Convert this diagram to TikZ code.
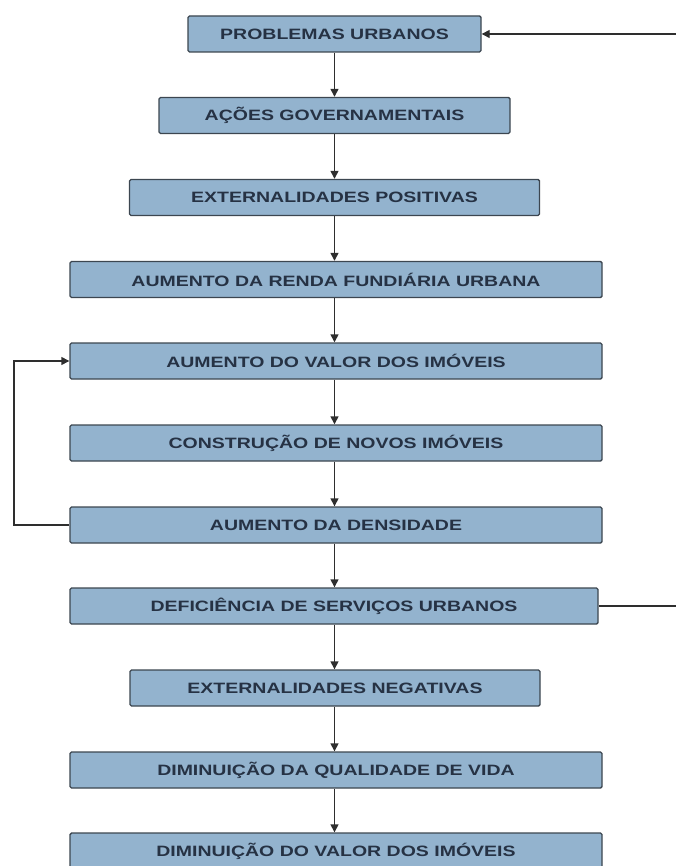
\documentclass[tikz,border=0pt]{standalone}
\usepackage{fontspec}
\usepackage{tikz}
\usetikzlibrary{arrows.meta,positioning}
\newfontfamily\boxfont[FakeStretch=1.3]{Liberation Sans}
\definecolor{BoxFill}{HTML}{93B3CE}
\definecolor{BoxLine}{HTML}{3C4650}
\definecolor{BoxText}{HTML}{263244}
\definecolor{Wire}{HTML}{2E2E2E}

\begin{document}
\begin{tikzpicture}[x=1pt,y=1pt,
      etapa/.style={rectangle,rounded corners=1.5pt,fill=BoxFill,draw=BoxLine,line width=1.4pt,
        minimum height=36pt,inner sep=0pt,text=BoxText,font=\boxfont\bfseries\fontsize{15}{18}\selectfont},
      seta/.style={Wire,line width=1.4pt,-{Triangle[length=8pt,width=8pt]}},
      fio/.style={Wire,line width=1.4pt}
    ]
      \useasboundingbox (0,0) rectangle (675,-866);
      \node[etapa,minimum width=293pt] (prob) at (334.5,-34) {PROBLEMAS URBANOS};
      \node[etapa,minimum width=351pt] (acoes) at (334.5,-115.5) {AÇÕES GOVERNAMENTAIS};
      \node[etapa,minimum width=410pt] (extpos) at (334.5,-197.5) {EXTERNALIDADES POSITIVAS};
      \node[etapa,minimum width=532pt] (renda) at (336,-279.5) {AUMENTO DA RENDA FUNDIÁRIA URBANA};
      \node[etapa,minimum width=532pt] (valor) at (336,-361) {AUMENTO DO VALOR DOS IMÓVEIS};
      \node[etapa,minimum width=532pt] (constr) at (336,-443) {CONSTRUÇÃO DE NOVOS IMÓVEIS};
      \node[etapa,minimum width=532pt] (dens) at (336,-525) {AUMENTO DA DENSIDADE};
      \node[etapa,minimum width=528pt] (defic) at (334,-606) {DEFICIÊNCIA DE SERVIÇOS URBANOS};
      \node[etapa,minimum width=410pt] (extneg) at (335,-688) {EXTERNALIDADES NEGATIVAS};
      \node[etapa,minimum width=532pt] (qual) at (336,-770) {DIMINUIÇÃO DA QUALIDADE DE VIDA};
      \node[etapa,minimum width=532pt] (dimval) at (336,-851) {DIMINUIÇÃO DO VALOR DOS IMÓVEIS};
      % cadeia principal
      \draw[seta] (prob.south) -- (acoes.north);
      \draw[seta] (acoes.south) -- (extpos.north);
      \draw[seta] (extpos.south) -- (renda.north -| extpos.south);
      \draw[seta] (renda.south -| extpos.south) -- (valor.north -| extpos.south);
      \draw[seta] (valor.south -| extpos.south) -- (constr.north -| extpos.south);
      \draw[seta] (constr.south -| extpos.south) -- (dens.north -| extpos.south);
      \draw[seta] (dens.south -| extpos.south) -- (defic.north -| extpos.south);
      \draw[seta] (defic.south -| extpos.south) -- (extneg.north -| extpos.south);
      \draw[seta] (extneg.south -| extpos.south) -- (qual.north -| extpos.south);
      \draw[seta] (qual.south -| extpos.south) -- (dimval.north -| extpos.south);
      % retorno pela esquerda
      \coordinate (esq) at (14,0);
      \draw[seta] (dens.west) -- (dens.west -| esq) -- (valor.west -| esq) -- (valor.west);
      % ligacoes pela direita (cortadas na borda)
      \coordinate (dir) at (676,0);
      \draw[fio] (defic.east) -- (defic.east -| dir);
      \draw[seta] (prob.east -| dir) -- (prob.east);
    \end{tikzpicture}
\end{document}
